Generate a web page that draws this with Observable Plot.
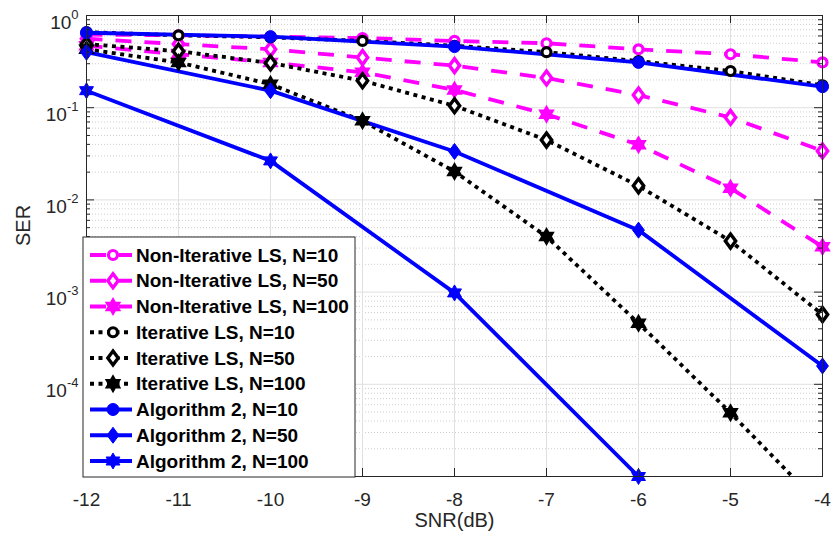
<!DOCTYPE html>
<html>
<head>
<meta charset="utf-8">
<script src="https://cdn.jsdelivr.net/npm/d3@7"></script>
<script src="https://cdn.jsdelivr.net/npm/@observablehq/plot@0.6"></script>
<style>
  html, body { margin: 0; padding: 0; background: white; }
  #chart { width: 832px; height: 541px; }
</style>
</head>
<body>
<div id="chart"></div>
<script>
// ---- data ----
const snr = [-12, -11, -10, -9, -8, -7, -6, -5, -4];
const snrEven = [-12, -10, -8, -6, -4];
const nonIterN10  = [0.62, 0.61, 0.59, 0.57, 0.53, 0.50, 0.43, 0.38, 0.31];
const nonIterN50  = [0.56, 0.49, 0.43, 0.35, 0.286, 0.21, 0.137, 0.0785, 0.034];
const nonIterN100 = [0.47, 0.38, 0.31, 0.242, 0.156, 0.085, 0.0396, 0.0134, 0.0031];
const iterN10  = [0.66, 0.61, 0.58, 0.53, 0.47, 0.40, 0.32, 0.25, 0.175];
const iterN50  = [0.49, 0.41, 0.306, 0.196, 0.105, 0.0446, 0.0142, 0.00358, 0.00057];
const iterN100 = [0.43, 0.31, 0.18, 0.072, 0.0203, 0.0040, 0.00046, 0.000049, 0.0000046];
const alg2N10  = [0.65, 0.59, 0.46, 0.31, 0.169];
const alg2N50  = [0.40, 0.153, 0.0335, 0.0047, 0.000158];
const alg2N100 = [0.153, 0.0265, 0.00098, 0.00001];
const seriesNames = [
  "Non-Iterative LS, N=10", "Non-Iterative LS, N=50", "Non-Iterative LS, N=100",
  "Iterative LS, N=10", "Iterative LS, N=50", "Iterative LS, N=100",
  "Algorithm 2, N=10", "Algorithm 2, N=50", "Algorithm 2, N=100"
];
const decades = [1e-5, 1e-4, 1e-3, 1e-2, 1e-1, 1];
const labeledDecades = [1e-4, 1e-3, 1e-2, 1e-1, 1];

// ---- symbols ----
const circleSym = d3.symbolCircle;
const diamondSym = {draw(ctx, size) {
  const r = Math.sqrt(size / Math.PI); const w = r * 0.74;
  ctx.moveTo(0, -r); ctx.lineTo(w, 0); ctx.lineTo(0, r); ctx.lineTo(-w, 0); ctx.closePath();
}};
const hexSym = {draw(ctx, size) {
  const R = Math.sqrt(size / Math.PI); const ri = R / Math.sqrt(3);
  for (let i = 0; i < 12; i++) {
    const a = -Math.PI / 2 + i * Math.PI / 6; const rr = i % 2 === 0 ? R : ri;
    const px = rr * Math.cos(a), py = rr * Math.sin(a);
    if (i === 0) ctx.moveTo(px, py); else ctx.lineTo(px, py);
  }
  ctx.closePath();
}};

const MAG = "#ff00ff", BLUE = "#0000ff", BLK = "#000000";
const styles = [
  {xs: snr, ys: nonIterN10,  stroke: MAG, dash: "16,13", sym: circleSym,  r: 4.5, fill: "white", sw: 3.2},
  {xs: snr, ys: nonIterN50,  stroke: MAG, dash: "16,13", sym: diamondSym, r: 7,   fill: "white", sw: 3.4},
  {xs: snr, ys: nonIterN100, stroke: MAG, dash: "16,13", sym: hexSym,     r: 7.5, fill: MAG,     sw: 2},
  {xs: snr, ys: iterN10,  stroke: BLK, dash: "4,4.5", sym: circleSym,  r: 4.5, fill: "white", sw: 3.2},
  {xs: snr, ys: iterN50,  stroke: BLK, dash: "4,4.5", sym: diamondSym, r: 7,   fill: "white", sw: 3.4},
  {xs: snr, ys: iterN100, stroke: BLK, dash: "4,4.5", sym: hexSym,     r: 7.5, fill: BLK,     sw: 2},
  {xs: snrEven, ys: alg2N10,  stroke: BLUE, dash: null, sym: circleSym,  r: 6,   fill: BLUE, sw: 1},
  {xs: snrEven, ys: alg2N50,  stroke: BLUE, dash: null, sym: diamondSym, r: 8,   fill: BLUE, sw: 1},
  {xs: snrEven, ys: alg2N100, stroke: BLUE, dash: null, sym: hexSym,     r: 8,   fill: BLUE, sw: 1}
];
const tables = styles.map((s, k) => s.xs.map((x, i) => ({snr: x, ser: s.ys[i], series: seriesNames[k]})));

const minorTicks = [];
for (let e = -5; e < 0; e++) for (let m = 2; m <= 9; m++) minorTicks.push(m * Math.pow(10, e));

const W = 832, H = 541, ML = 86, MR = 10, MT = 15, MB = 65;
const innerH = H - MT - MB, innerW = W - ML - MR;
const AX = "#262626";

const marks = [
  Plot.ruleY(minorTicks, {y: d => d, stroke: "#cfcfcf", strokeDasharray: "1,2"}),
  Plot.ruleY(decades, {y: d => d, stroke: "#e0e0e0", strokeWidth: 1}),
  Plot.ruleX(snr, {x: d => d, stroke: "#e0e0e0", strokeWidth: 1})
];
styles.forEach((s, k) => {
  marks.push(Plot.line(tables[k], {x: "snr", y: "ser", stroke: s.stroke, strokeWidth: 3.8,
    strokeDasharray: s.dash || undefined, strokeLinecap: "butt", strokeLinejoin: "miter", clip: true}));
});
styles.forEach((s, k) => {
  marks.push(Plot.dot(tables[k].filter(d => d.ser >= 1e-5), {x: "snr", y: "ser", symbol: s.sym, r: s.r,
    fill: s.fill, stroke: s.stroke, strokeWidth: s.sw}));
});
marks.push(
  Plot.tickX(snr, {x: d => d, insetTop: innerH - 8, stroke: AX}),
  Plot.tickX(snr, {x: d => d, insetBottom: innerH - 8, stroke: AX}),
  Plot.tickY(decades, {y: d => d, insetRight: innerW - 8, stroke: AX}),
  Plot.tickY(decades, {y: d => d, insetLeft: innerW - 8, stroke: AX}),
  Plot.tickY(minorTicks, {y: d => d, insetRight: innerW - 4, stroke: AX}),
  Plot.tickY(minorTicks, {y: d => d, insetLeft: innerW - 4, stroke: AX}),
  Plot.frame({stroke: AX, strokeWidth: 1}),
  Plot.axisX(snr, {tickSize: 0, tickPadding: 16, tickFormat: d => String(d), fill: AX, label: null}),
  Plot.axisY(labeledDecades, {tickSize: 0, tickPadding: 8, tickFormat: d => "10^" + Math.round(Math.log10(d)), fill: AX, label: null}),
  Plot.text(["SNR(dB)"], {frameAnchor: "bottom", dy: 50, fontSize: 20, fill: AX}),
  Plot.text(["SER"], {frameAnchor: "left", dx: -63, rotate: -90, fontSize: 20, fill: AX})
);

const svg = Plot.plot({
  width: W, height: H,
  marginLeft: ML, marginRight: MR, marginTop: MT, marginBottom: MB,
  style: {fontFamily: "'Liberation Sans', Arial, Helvetica, sans-serif", fontSize: "19px", background: "white", color: AX},
  x: {domain: [-12, -4], label: null},
  y: {type: "log", domain: [1e-5, 1], label: null},
  marks
});
document.getElementById("chart").appendChild(svg);

// superscript exponents on y tick labels
d3.select(svg).selectAll("g[aria-label='y-axis tick label'] text").each(function() {
  const t = d3.select(this);
  const s = t.text();
  const m = s.match(/^10\^(-?\d+)$/);
  if (!m) return;
  t.text(null).attr("y", null);
  t.append("tspan").attr("dy", 13).text("10");
  t.append("tspan").attr("dy", -10).attr("font-size", 13).text(m[1]);
});

// legend
const lg = d3.select(svg).append("g")
  .attr("font-family", "'Liberation Sans', Arial, Helvetica, sans-serif")
  .attr("text-anchor", "start");
const LX = 83, LY = 237, LW = 272, LH = 240, rowH = 25.75, row0 = 255;
lg.append("rect").attr("x", LX).attr("y", LY).attr("width", LW).attr("height", LH)
  .attr("fill", "white").attr("stroke", AX).attr("stroke-width", 1);
styles.forEach((s, k) => {
  const cy = row0 + k * rowH;
  lg.append("line").attr("x1", 90).attr("x2", 132).attr("y1", cy).attr("y2", cy)
    .attr("stroke", s.stroke).attr("stroke-width", 3.8)
    .attr("stroke-linecap", "butt")
    .attr("stroke-dasharray", s.dash);
  lg.append("path").attr("transform", `translate(113,${cy})`)
    .attr("d", d3.symbol(s.sym, Math.PI * s.r * s.r)())
    .attr("fill", s.fill).attr("stroke", s.stroke).attr("stroke-width", s.sw);
  lg.append("text").attr("x", 136).attr("y", cy).attr("dy", "0.35em")
    .attr("text-anchor", "start")
    .attr("font-size", 19).attr("font-weight", "bold").attr("fill", "#000").text(seriesNames[k]);
});
</script>
</body>
</html>
